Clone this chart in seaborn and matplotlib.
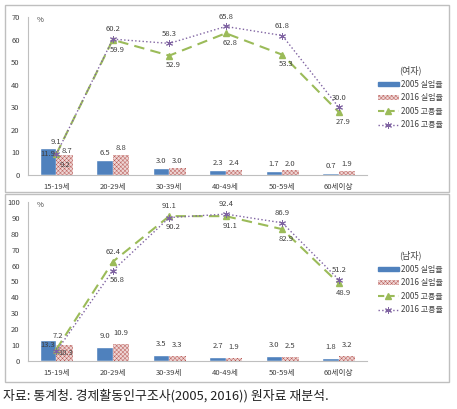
import matplotlib
matplotlib.use("Agg")
import matplotlib.pyplot as plt
from matplotlib.patches import Rectangle, Patch
from matplotlib.lines import Line2D
import numpy as np
import pandas as pd
import seaborn as sns

categories = ["15-19세", "20-29세", "30-39세", "40-49세", "50-59세", "60세이상"]
series_names = ["2005 실업율", "2016 실업율", "2005 고용율", "2016 고용율"]

# 여자
f_unemp_2005 = [11.9, 6.5, 3.0, 2.3, 1.7, 0.7]
f_unemp_2016 = [8.7, 8.8, 3.0, 2.4, 2.0, 1.9]
f_emp_2005 = [9.2, 59.9, 52.9, 62.8, 53.3, 27.9]
f_emp_2016 = [9.1, 60.2, 58.3, 65.8, 61.8, 30.0]

# 남자
m_unemp_2005 = [13.3, 9.0, 3.5, 2.7, 3.0, 1.8]
m_unemp_2016 = [10.3, 10.9, 3.3, 1.9, 2.5, 3.2]
m_emp_2005 = [7.2, 62.4, 91.1, 91.1, 82.9, 48.9]
m_emp_2016 = [6.0, 56.8, 90.2, 92.4, 86.9, 51.2]

BLUE = "#4F81BD"
PINK = "#EED6D5"
RED = "#B5504C"
GREEN = "#9BBB59"
PURPLE = "#8064A2"
GRAY = "#BFBFBF"
TXT = "#404040"
HATCH = "xxxxxxxx"

sns.set_theme(style="white")
plt.rcParams["font.family"] = ["Noto Sans CJK KR", "DejaVu Sans"]
plt.rcParams["hatch.linewidth"] = 0.3

W, H = 457, 409
fig = plt.figure(figsize=(W / 100, H / 100), dpi=100)


def fx(px):
    return px / W


def fy(py):
    return 1 - py / H


def label(ax, text, xy, off):
    ax.annotate(text, xy, xytext=off, textcoords="offset points",
                ha="center", va="center", fontsize=5.5, color=TXT, zorder=6)


def draw_panel(ax, u05, u16, e05, e16, ymax, title, leg_top,
               bar_pad, dir05, dir16, skip16, special):
    df = pd.DataFrame({
        "연령": categories * 2,
        "값": u05 + u16,
        "구분": [series_names[0]] * len(categories) + [series_names[1]] * len(categories),
    })
    sns.barplot(data=df, x="연령", y="값", hue="구분", palette=[BLUE, PINK],
                width=0.58, gap=0, saturation=1, legend=False, ax=ax)
    for p in ax.containers[1]:
        p.set_hatch(HATCH)
        p.set_edgecolor(RED)
        p.set_linewidth(0)

    # bar labels
    for ci, cont in enumerate(ax.containers[:2]):
        vals = u05 if ci == 0 else u16
        for i, p in enumerate(cont):
            xc = p.get_x() + p.get_width() / 2
            off = special.get((ci, i), (0, bar_pad))
            label(ax, f"{vals[i]:.1f}", (xc, p.get_height()), off)

    x = np.arange(len(categories))
    ax.plot(x, e05, color=GREEN, lw=1.5, dashes=(5, 3), marker="^", ms=4,
            mec=GREEN, mfc=GREEN, zorder=4)
    ax.plot(x, e16, color=PURPLE, lw=1.0, ls=":", marker=(6, 2, 0), ms=5,
            mew=0.7, mec=PURPLE, zorder=5)

    for i in range(len(categories)):
        d = dir05[i]
        off = special.get((2, i), (3 if d < 0 else 0, 7 * d))
        label(ax, f"{e05[i]:.1f}", (x[i], e05[i]), off)
        if i in skip16:
            continue
        d = dir16[i]
        off = special.get((3, i), (3 if d < 0 else 0, 7 * d))
        label(ax, f"{e16[i]:.1f}", (x[i], e16[i]), off)

    ax.set_xlim(-0.5, len(categories) - 0.5)
    ax.set_ylim(0, ymax)
    ax.set_yticks(range(0, ymax + 1, 10))
    ax.set_xlabel("")
    ax.set_ylabel("")
    ax.tick_params(axis="both", length=0, labelsize=5.5, colors=TXT, pad=6)
    for s in ["top", "right"]:
        ax.spines[s].set_visible(False)
    for s in ["left", "bottom"]:
        ax.spines[s].set_color(GRAY)
        ax.spines[s].set_linewidth(0.8)
    ax.text(0.025, 0.98, "%", transform=ax.transAxes, fontsize=5.5, color=TXT,
            ha="left", va="center")

    handles = [
        Patch(facecolor=BLUE, edgecolor=BLUE),
        Patch(facecolor=PINK, edgecolor=RED, hatch=HATCH, lw=0),
        Line2D([], [], color=GREEN, lw=1.5, dashes=(3, 2), marker="^", ms=4, mfc=GREEN),
        Line2D([], [], color=PURPLE, lw=1.0, ls=":", marker=(6, 2, 0), ms=5, mew=0.7),
    ]
    leg = fig.legend(handles, series_names, title=title, loc="upper left",
                     bbox_to_anchor=(fx(372), fy(leg_top)), frameon=False,
                     fontsize=5.8, title_fontsize=6.5, handlelength=2.6,
                     handleheight=0.45, handletextpad=0.3, labelspacing=0.55,
                     borderpad=0.2)
    for t in leg.get_texts():
        t.set_color(TXT)
    leg.get_title().set_color(TXT)


ax_top = fig.add_axes([fx(28), fy(175), fx(339), (175 - 17) / H])
ax_bot = fig.add_axes([fx(28), fy(361), fx(339), (361 - 202) / H])

draw_panel(ax_top, f_unemp_2005, f_unemp_2016, f_emp_2005, f_emp_2016, 70,
           "(여자)", 60, 5,
           [-1, -1, -1, -1, -1, -1], [1, 1, 1, 1, 1, 1], set(),
           {(0, 0): (0, -4.5), (1, 0): (2, 3), (2, 0): (6, -7.5), (3, 0): (0, 9)})
draw_panel(ax_bot, m_unemp_2005, m_unemp_2016, m_emp_2005, m_emp_2016, 100,
           "(남자)", 245, 8,
           [1, 1, 1, -1, -1, -1], [-1, -1, -1, 1, 1, 1], {0},
           {(0, 0): (0, -4), (1, 0): (1, -6), (2, 0): (1, 10)})

fig.add_artist(Rectangle((fx(5), fy(192)), fx(444), (192 - 5) / H,
                         transform=fig.transFigure, fill=False, ec=GRAY, lw=1))
fig.add_artist(Rectangle((fx(5), fy(382)), fx(444), (382 - 194) / H,
                         transform=fig.transFigure, fill=False, ec=GRAY, lw=1))

fig.text(fx(3), fy(396), "자료: 통계청. 경제활동인구조사(2005, 2016)) 원자료 재분석.",
         fontsize=9.3, color="#222222", ha="left", va="center")

fig.savefig("out.png", dpi=100)
